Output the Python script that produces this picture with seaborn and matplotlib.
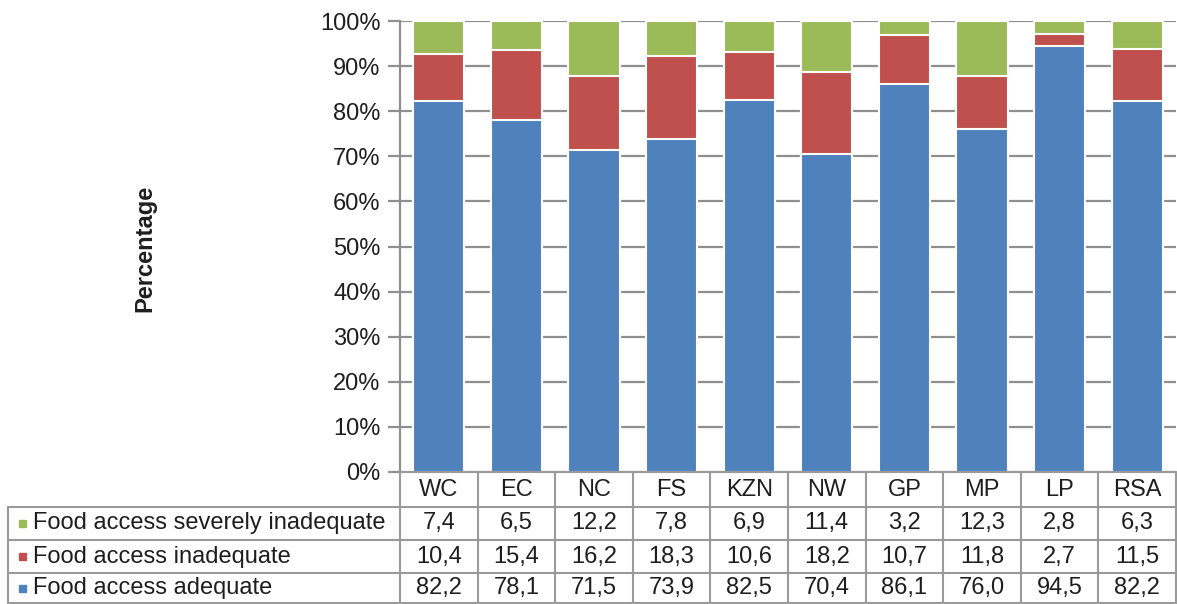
import matplotlib
matplotlib.use("Agg")
import matplotlib.pyplot as plt
from matplotlib.lines import Line2D
from matplotlib.patches import Rectangle
import seaborn as sns
import numpy as np

# Provinces and food-access shares (%)
regions = ["WC", "EC", "NC", "FS", "KZN", "NW", "GP", "MP", "LP", "RSA"]
adequate = [82.2, 78.1, 71.5, 73.9, 82.5, 70.4, 86.1, 76.0, 94.5, 82.2]
inadequate = [10.4, 15.4, 16.2, 18.3, 10.6, 18.2, 10.7, 11.8, 2.7, 11.5]
severe = [7.4, 6.5, 12.2, 7.8, 6.9, 11.4, 3.2, 12.3, 2.8, 6.3]
yticks = [0, 10, 20, 30, 40, 50, 60, 70, 80, 90, 100]

series_names = ["Food access severely inadequate", "Food access inadequate", "Food access adequate"]
colors = {"severe": "#9BBB59", "inadequate": "#C0504D", "adequate": "#4F81BD"}

sns.set_theme(style="white")
plt.rcParams["font.family"] = ["Liberation Sans", "DejaVu Sans"]

FS = 17
TXT = "#1e1e1e"

W, H = 1177, 604
fig = plt.figure(figsize=(W / 100, H / 100), dpi=100)

def fx(px):
    return px / W

def fy(py):
    return 1 - py / H

ax_left, ax_right, ax_top, ax_bottom = 400, 1176, 21, 472
ax = fig.add_axes([fx(ax_left), fy(ax_bottom), fx(ax_right - ax_left), (ax_bottom - ax_top) / H])

lvl2 = np.array(adequate) + np.array(inadequate)
lvl3 = lvl2 + np.array(severe)

grid_col = "#8f8f8f"
for vals, col in [(lvl3, colors["severe"]), (lvl2, colors["inadequate"]), (adequate, colors["adequate"])]:
    sns.barplot(x=regions, y=list(vals), order=regions, color=col, width=0.66,
                edgecolor="white", linewidth=1.5, saturation=1, ax=ax, zorder=3)

ax.set_ylim(0, 100)
ax.set_xlim(-0.5, len(regions) - 0.5)
ax.set_yticks(yticks)
ax.set_yticklabels([f"{v}%" for v in yticks], fontsize=FS, color=TXT)
ax.set_xticks([])
ax.set_xlabel("")
ax.set_ylabel("")
ax.yaxis.grid(True, color=grid_col, linewidth=1.6)
ax.set_axisbelow(True)
for side in ["top", "right", "bottom"]:
    ax.spines[side].set_visible(False)
ax.spines["left"].set_color(grid_col)
ax.spines["left"].set_linewidth(1.6)
ax.tick_params(axis="y", left=True, length=9, width=1.6, color=grid_col, pad=5)

fig.text(fx(145), fy(248), "Percentage", rotation=90, ha="center", va="center",
         fontsize=FS, fontweight="bold", color=TXT)

# Data table under the bars
line_kw = dict(color="#9a9a9a", linewidth=1.5, transform=fig.transFigure)
col_w = (ax_right - ax_left) / len(regions)
row_edges = [472, 507, 540, 573, 603]
fig.add_artist(Line2D([fx(ax_left), fx(ax_right)], [fy(472), fy(472)], **line_kw))
for y in row_edges[1:]:
    fig.add_artist(Line2D([fx(8), fx(ax_right)], [fy(y), fy(y)], **line_kw))
fig.add_artist(Line2D([fx(8), fx(8)], [fy(507), fy(603)], **line_kw))
for k in range(len(regions) + 1):
    x = ax_left + k * col_w
    fig.add_artist(Line2D([fx(x), fx(x)], [fy(472), fy(603)], **line_kw))

for k, r in enumerate(regions):
    cx = ax_left + (k + 0.5) * col_w
    fig.text(fx(cx), fy(490), r, ha="center", va="center", fontsize=FS, color=TXT)

rows = [(series_names[0], severe, colors["severe"]),
        (series_names[1], inadequate, colors["inadequate"]),
        (series_names[2], adequate, colors["adequate"])]
for i, (name, vals, col) in enumerate(rows):
    cy = (row_edges[i + 1] + row_edges[i + 2]) / 2
    fig.add_artist(Rectangle((fx(19), fy(cy + 3.5)), fx(7), 7 / H, color=col,
                             transform=fig.transFigure))
    fig.text(fx(33), fy(cy), name, ha="left", va="center", fontsize=FS, color=TXT)
    for k, v in enumerate(vals):
        cx = ax_left + (k + 0.5) * col_w
        fig.text(fx(cx), fy(cy), f"{v:.1f}".replace(".", ","), ha="center", va="center",
                 fontsize=FS, color=TXT)

fig.savefig("out.png", dpi=100)
